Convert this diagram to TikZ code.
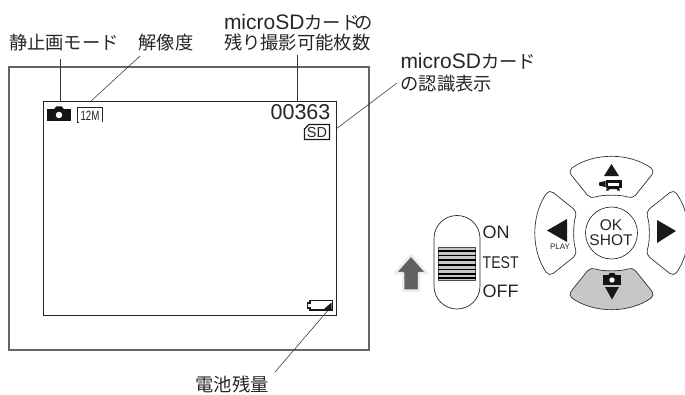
\documentclass[tikz,border=0pt]{standalone}
\usepackage{fontspec}
\setmainfont{Liberation Sans}
\newfontfamily\cjk{Noto Sans CJK JP}
\newcommand{\ltn}[1]{{\fontsize{21}{21}\selectfont #1}}
\tikzset{
  lbl/.style={inner sep=0pt,outer sep=0pt,font=\fontsize{18.3}{21}\selectfont,text=black!85,align=left},
  sw/.style={inner sep=0pt,anchor=west,text=black!85},
  lead/.style={draw=black!80,line width=.55pt},
  outerframe/.style={draw=black!60,line width=1.1pt},
  screen/.style={draw=black!85,line width=.8pt},
  keyline/.style={draw=black!85,line width=.65pt,rounded corners=5pt},
  solid tip/.style={fill=black!90,draw=none}
}
\newcommand{\keyshape}[2]{%
  \begin{scope}[shift={(611.5,233)},rotate=#1]
    \path[keyline,fill=#2] (125:76pt) arc[start angle=125,end angle=55,radius=76pt]
      -- (21pt,34pt) .. controls (10pt,38.5pt) and (-10pt,38.5pt) .. (-21pt,34pt) -- cycle;
  \end{scope}}
\newcommand{\camicon}[4]{% x y w h : black body with a bump and a white lens
  \fill[black!92] (#1,#2) rectangle ++(#3,#4);
  \fill[black!92] (#1+.3*#3,#2+.05) -- ++(.08*#3,-.22*#4) -- ++(.24*#3,0) -- ++(.08*#3,.22*#4) -- cycle;
  \fill[white] (#1+.5*#3,#2+.5*#4) circle[radius=.27*#4 pt];}
\begin{document}
\begin{tikzpicture}[x=1pt,y=-1pt]
\useasboundingbox (0,0) rectangle (685,394);
% frames
\draw[outerframe] (9,67) rectangle (369,350);
\draw[screen] (43,101) rectangle (336,315);
% labels
\node[lbl,anchor=center] (mode) at (64,43) {\cjk 静止画モード};
\node[lbl,anchor=center] (res) at (166,43) {\cjk 解像度};
\node[lbl,anchor=west] (count) at (224,32.5) {\ltn{microSD}{\cjk カード\kern-4.5ptの}\\[-1pt]{\cjk 残り撮影可能枚数}};
\node[lbl,anchor=west] (card) at (400.5,72.5) {\ltn{microSD}{\cjk カード}\\[1pt]{\cjk の認識表示}};
\node[lbl,anchor=center] (batt) at (232,384) {\cjk 電池残量};
% connector ends
\coordinate (modeA) at (60,59);  \coordinate (modeB) at (60,101);
\coordinate (resA) at (140,56);  \coordinate (resB) at (90,102);
\coordinate (countA) at (297.5,55); \coordinate (countB) at (297.5,102);
\coordinate (cardA) at (397,83); \coordinate (cardB) at (336,129);
\coordinate (battA) at (275,372); \coordinate (battB) at (330,308);
\draw[lead] (modeA) -- (modeB);
\draw[lead] (resA) -- (resB);
\draw[lead,line width=.8pt] (countA) -- (countB);
\draw[lead] (cardA) -- (cardB);
\draw[lead] (battA) -- (battB);
% screen icons
\camicon{47}{109}{24}{12}
\draw[black!85,line width=.6pt] (78.5,122) -- (77,122) -- (77,107) -- (102,107) -- (102,122);
\node[inner sep=0pt,font=\fontsize{13.5}{14}\selectfont,text=black!85,xscale=.72] (twelve) at (90,115.5) {12M};
\node[inner sep=0pt,font=\fontsize{21.5}{22}\selectfont,text=black!85] (num) at (300.5,112) {00363};
\draw[black!90,line width=1.3pt] (304.5,129) -- (309,124.5) -- (329.5,124.5) -- (329.5,139.5) -- (304.5,139.5) -- cycle;
\node[inner sep=0pt,font=\fontsize{14.5}{15}\selectfont,text=black!85] (sd) at (317,132.3) {SD};
% battery
\draw[black!90,line width=1.3pt] (310,300.5) -- (332.5,300.5) -- (332.5,310) -- (310,310) -- (310,308) -- (307.5,308) -- (307.5,303) -- (310,303) -- cycle;
\fill[black!90] (324,309) -- (331.5,302.5) -- (331.5,309) -- cycle;
% gray arrow
\path[draw=black!7,line width=2.5pt,fill=black!62,line join=round]
  (411,255) -- (427,273) -- (419,273) -- (419,290.5) -- (403,290.5) -- (403,273) -- (395,273) -- cycle;
% switch
\draw[black!85,line width=.7pt,rounded corners=22.9pt] (434,215.5) rectangle (480,309);
\fill[black!22] (438,247) rectangle (475.5,280.5);
\draw[black!70,line width=.8pt] (438,247) rectangle (475.5,280.5);
\foreach \yy in {251,255.6,260.2,264.8,269.4,274,278}
  \draw[black,line width=1.5pt] (438,\yy) -- (475.5,\yy);
\node[sw,font=\fontsize{18}{18}\selectfont] (on) at (482.5,232.7) {ON};
\node[sw,font=\fontsize{17}{18}\selectfont,xscale=.83] (test) at (482.5,263) {TEST};
\node[sw,font=\fontsize{18}{18}\selectfont] (off) at (482.5,291.7) {OFF};
% keys
\keyshape{0}{white}
\keyshape{90}{white}
\keyshape{270}{white}
\keyshape{180}{black!22}
\node[circle,draw=black!85,line width=.65pt,minimum size=52pt,inner sep=0pt] (ok) at (611.5,233) {};
\node[inner sep=0pt,font=\fontsize{15.5}{15.5}\selectfont,text=black!85] (oktext) at (611,225) {OK};
\node[inner sep=0pt,font=\fontsize{15.5}{15.5}\selectfont,text=black!85] (shot) at (611,240) {SHOT};
\node[inner sep=0pt,font=\fontsize{8}{8}\selectfont,text=black!85] (play) at (560,246.5) {PLAY};
% up key symbols
\fill[solid tip] (611.5,164) -- (619,176) -- (604,176) -- cycle;
\fill[black!92] (605.5,180) rectangle (621.5,188);
\fill[black!92] (599,182.5) -- (605.5,181) -- (605.5,187) -- (599,185.5) -- cycle;
\fill[white] (608,182.5) rectangle (619,186);
\fill[black!92] (607,188) -- (619,188) -- (620,190.5) -- (617.5,190.5) -- (616.5,189) -- (609.5,189) -- (608.5,190.5) -- (606,190.5) -- cycle;
% left / right triangles
\fill[solid tip] (547,230.5) -- (567,219) -- (567,242) -- cycle;
\fill[solid tip] (676,231) -- (657,220) -- (657,243) -- cycle;
% down key symbols
\camicon{603}{275}{18}{10}
\fill[solid tip] (612,299.5) -- (605,287) -- (619,287) -- cycle;
\end{tikzpicture}
\end{document}
